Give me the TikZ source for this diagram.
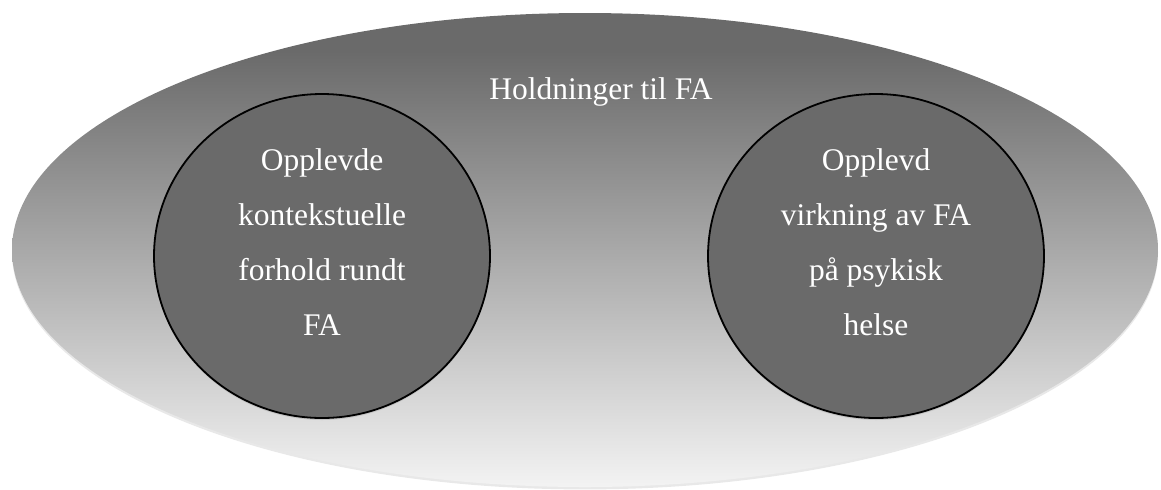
\documentclass[tikz,border=0pt]{standalone}
\usepackage{fontspec}
\setmainfont{Liberation Serif}
\usetikzlibrary{shapes.geometric,shadows}

\definecolor{topgray}{HTML}{6A6A6A}
\definecolor{lowgray}{HTML}{F3F3F3}
\definecolor{circlegray}{HTML}{6A6A6A}
\pgfdeclareverticalshading{holdfade}{100bp}{color(0bp)=(lowgray); color(25bp)=(lowgray); color(71bp)=(topgray); color(100bp)=(topgray)}

\begin{document}
\begin{tikzpicture}[x=0.5pt, y=-0.5pt,
      outer/.style={ellipse, shading=holdfade, minimum width=573pt, minimum height=237pt, inner sep=0pt,
                    drop shadow={opacity=0.18, shadow xshift=0pt, shadow yshift=-1.2pt}},
      topic/.style={ellipse, draw=black, line width=0.9pt, fill=circlegray, minimum width=168pt, minimum height=162pt, inner sep=0pt,
                    drop shadow={opacity=0.25, shadow xshift=0pt, shadow yshift=-1pt}},
      topictext/.style={text=white, align=center, font=\fontsize{15.75}{27.5}\selectfont}]

      \useasboundingbox (0,0) rectangle (1161,489);

      \node[outer] (attitude) at (585,250) {};
      \node[text=white, anchor=base, font=\fontsize{15.75}{27.5}\selectfont] (attitudetext) at (601,99.5) {Holdninger til FA};

      \node[topic] (context) at (322,256) {};
      \node[topic] (effect) at (876,256) {};

      \node[topictext] (contexttext) at (322,242) {Opplevde\\kontekstuelle\\forhold rundt\\FA};
      \node[topictext] (effecttext) at (876,242) {Opplevd\\virkning av FA\\på psykisk\\helse};

\end{tikzpicture}
\end{document}
